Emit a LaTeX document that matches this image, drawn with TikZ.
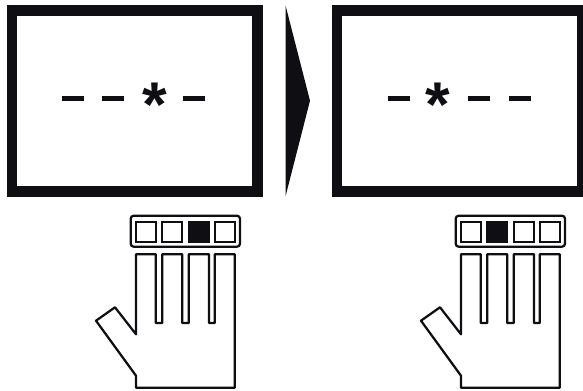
\documentclass[tikz,border=0pt]{standalone}
\usepackage{fontspec}
\setmainfont{Liberation Sans}
\begin{document}
\begin{tikzpicture}[x=0.02cm,y=-0.02cm,
  screen/.style={draw=ink,line width=0.21cm,fill=white,line join=miter},
  dashline/.style={draw=ink,line width=0.1cm},
  starmark/.style={font=\fontsize{36}{36}\selectfont\bfseries,text=ink,inner sep=0pt},
  keyrow/.style={draw=ink,line width=0.045cm,rounded corners=0.06cm},
  keybox/.style={draw=ink,line width=0.045cm},
  handline/.style={draw=ink,line width=0.045cm,line join=round}]
  \definecolor{ink}{HTML}{0F0E13}
  \useasboundingbox (0,0) rectangle (583,390);
  % screens
  \draw[screen] (12,10.3) rectangle (257.5,191.3);
  \draw[screen] (337,10.3) rectangle (582.5,191.3);
  % arrow
  \fill[ink] (285.7,6) -- (310,100.7) -- (285.7,195.7) -- cycle;
  % left display
  \foreach \x in {62,102,183} \draw[dashline] (\x,98) -- ++(22,0);
  \node[starmark] (star1) at (154.7,105) {*};
  % right display
  \foreach \x in {387.7,468,509} \draw[dashline] (\x,98) -- ++(22,0);
  \node[starmark] (star2) at (438,105) {*};
  % hands
  \foreach \dx/\lit in {0/3,325/2} {
    \begin{scope}[xshift=\dx*0.02cm]
      \draw[keyrow] (130.7,215.7) rectangle (240,246.7);
      \foreach \k/\kx in {1/136,2/162.3,3/188.7,4/214.7} {
        \ifnum\k=\lit
          \draw[keybox,fill=ink] (\kx,221.7) rectangle ++(20,20);
        \else
          \draw[keybox] (\kx,221.7) rectangle ++(20,20);
        \fi
      }
      \draw[handline] (136,254.3) -- (155.7,254.3) -- (155.7,323) -- (162.3,323)
        -- (162.3,254.3) -- (182.3,254.3) -- (182.3,323) -- (188.7,323)
        -- (188.7,254.3) -- (209,254.3) -- (209,323) -- (214.7,323)
        -- (214.7,254.3) -- (234.7,254.3) -- (234.7,387.7) -- (136,387.7)
        -- (136,375.7) -- (96,320.7) -- (115,307.3) -- (136,334.3) -- cycle;
    \end{scope}
  }
\end{tikzpicture}
\end{document}
